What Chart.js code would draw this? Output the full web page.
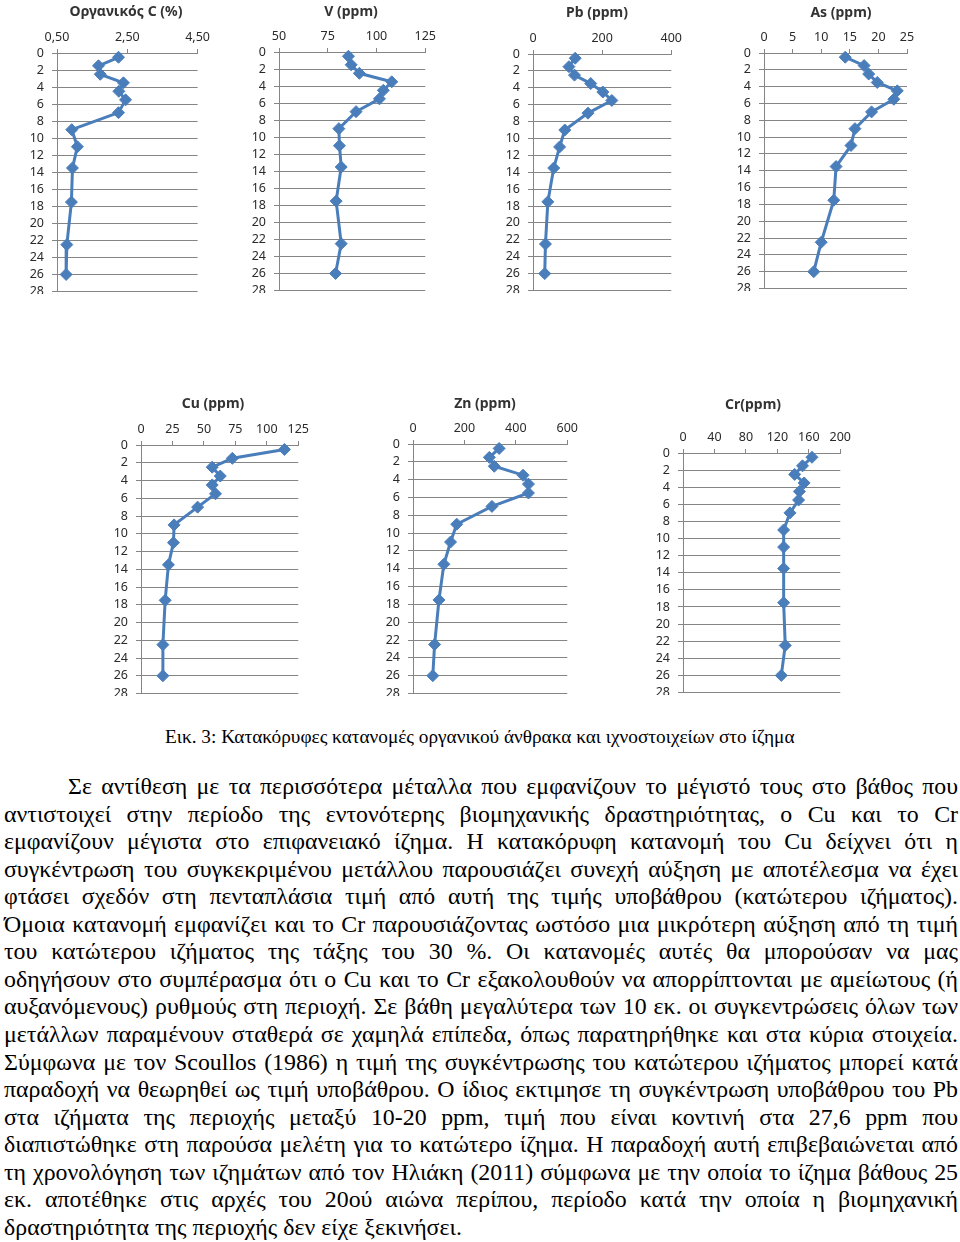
<!DOCTYPE html>
<html lang="el">
<head>
<meta charset="UTF-8">
<title>Κατακόρυφες κατανομές</title>
<script src="https://cdn.jsdelivr.net/npm/chart.js"></script>
<style>
  body { margin: 0; width: 960px; height: 1242px; background: #fff; position: relative; overflow: hidden; }
  .box { position: absolute; overflow: hidden; }
  .box canvas { position: absolute; }
  .ttl { position: absolute; font: bold 14px "Noto Sans", sans-serif; color: #333; white-space: nowrap; transform: translate(-50%, -50%); }
  .txt { position: absolute; font-family: "Liberation Serif", "Times New Roman", serif; color: #000; white-space: nowrap; }
  .ln { position: absolute; left: 0; white-space: nowrap; line-height: 27.56px; height: 27.56px; }
</style>
</head>
<body>

<div id="charts"></div>

<div class="txt" id="caption" style="left:165px; top:726px;"><span>Εικ. 3: Κατακόρυφες κατανομές οργανικού άνθρακα και ιχνοστοιχείων στο ίζημα</span></div>
<div class="txt" id="para" style="left:4px; top:773px; width:954px;"></div>

<script>
// depth of each sample (cm) and y-axis ticks
const depths = [0.5, 1.5, 2.5, 3.5, 4.5, 5.5, 7, 9, 11, 13.5, 17.5, 22.5, 26];
const depthTicks = [0, 2, 4, 6, 8, 10, 12, 14, 16, 18, 20, 22, 24, 26, 28];
const depthLabels = ['0','2','4','6','8','10','12','14','16','18','20','22','24','26','28'];

// values
const orgC = [2.25, 1.68, 1.73, 2.39, 2.26, 2.45, 2.25, 0.92, 1.08, 0.94, 0.91, 0.78, 0.76];
const vVals = [85.6, 87, 91.2, 107.8, 103.5, 101.5, 89.5, 80.7, 81, 81.9, 79.3, 81.9, 79];
const pbVals = [122, 104, 120, 167, 202, 228, 159, 92, 77, 60, 43, 36, 34];
const asVals = [14.2, 17.5, 18.3, 19.8, 23.3, 22.7, 18.8, 15.9, 15.2, 12.6, 12.2, 10, 8.7];
const cuVals = [114, 72.6, 56.6, 63, 56.6, 59.2, 45, 26.3, 25.8, 21.8, 19.2, 17.4, 17.4];
const znVals = [335, 297, 316, 428, 449, 449, 307, 170, 146, 120, 101, 84, 77];
const crVals = [164, 152, 142, 154, 148, 147, 136, 128, 128, 128, 128, 130, 125];

// x tick labels
const orgCTicks = ['0,50', '2,50', '4,50'];
const vTicks = ['50', '75', '100', '125'];
const pbTicks = ['0', '200', '400'];
const asTicks = ['0', '5', '10', '15', '20', '25'];
const cuTicks = ['0', '25', '50', '75', '100', '125'];
const znTicks = ['0', '200', '400', '600'];
const crTicks = ['0', '40', '80', '120', '160', '200'];

const titles = ['Οργανικός C (%)', 'V (ppm)', 'Pb (ppm)', 'As (ppm)', 'Cu (ppm)', 'Zn (ppm)', 'Cr(ppm)'];

const blue = '#4A7EBB';
const gridCol = '#858585';
Chart.defaults.font.family = "'Noto Sans', sans-serif";
Chart.defaults.font.size = 12.5;
Chart.defaults.color = '#2a2a2a';

// plot area of each panel on the page: l, t, r, b, clip bottom, title x, title y
const panels = [
  { vals: orgC, ticks: orgCTicks, min: 0.5, max: 4.5, step: 2, l: 57, t: 53, r: 200, b: 290, cut: 294, tx: 126, ty: 10 },
  { vals: vVals, ticks: vTicks, min: 50, max: 125, step: 25, l: 279, t: 52, r: 426, b: 289, cut: 293, tx: 351, ty: 10 },
  { vals: pbVals, ticks: pbTicks, min: 0, max: 400, step: 200, l: 533, t: 54, r: 672, b: 289, cut: 293, tx: 597, ty: 11 },
  { vals: asVals, ticks: asTicks, min: 0, max: 25, step: 5, l: 764, t: 53, r: 907, b: 287, cut: 291, tx: 841, ty: 11 },
  { vals: cuVals, ticks: cuTicks, min: 0, max: 125, step: 25, l: 141, t: 445, r: 299, b: 692, cut: 696, tx: 213, ty: 402 },
  { vals: znVals, ticks: znTicks, min: 0, max: 600, step: 200, l: 413, t: 444, r: 568, b: 692, cut: 696, tx: 485, ty: 402 },
  { vals: crVals, ticks: crTicks, min: 0, max: 200, step: 40, l: 683, t: 453, r: 841, b: 691, cut: 695, tx: 753, ty: 403 }
];

const YW = 50, XH = 45, PR = 14, PB = 10, LBL = 7;
const holder = document.getElementById('charts');

panels.forEach((p, k) => {
  const left = p.l - YW, top = p.t - XH;
  const w = (p.r - p.l) + YW + PR, h = (p.b - p.t) + XH + PB + LBL;

  const box = document.createElement('div');
  box.className = 'box';
  box.style.left = left + 'px';
  box.style.top = top + 'px';
  box.style.width = w + 'px';
  box.style.height = (p.cut - top) + 'px';
  const cv = document.createElement('canvas');
  cv.width = w; cv.height = h;
  box.appendChild(cv);
  holder.appendChild(box);

  const t = document.createElement('div');
  t.className = 'ttl';
  t.textContent = titles[k];
  t.style.left = p.tx + 'px';
  t.style.top = p.ty + 'px';
  holder.appendChild(t);

  new Chart(cv, {
    type: 'scatter',
    data: {
      datasets: [{
        data: depths.map((d, i) => ({ x: p.vals[i], y: d })),
        showLine: true,
        borderColor: blue,
        backgroundColor: blue,
        borderWidth: 3,
        pointStyle: 'rectRot',
        pointRadius: 6,
        pointBorderWidth: 1,
        clip: false
      }]
    },
    options: {
      responsive: false,
      animation: false,
      layout: { padding: { left: 0, top: 0, right: PR, bottom: PB } },
      plugins: { legend: { display: false }, tooltip: { enabled: false } },
      scales: {
        x: {
          type: 'linear', position: 'top', min: p.min, max: p.max,
          ticks: { stepSize: p.step, autoSkip: false, maxRotation: 0, padding: 4,
                   callback: (v, i) => p.ticks[i] },
          grid: { drawOnChartArea: false, tickLength: 4, color: gridCol },
          border: { color: gridCol },
          afterFit: s => { s.height = XH; }
        },
        y: {
          type: 'linear', reverse: true, min: 0, max: 28,
          ticks: { stepSize: 2, autoSkip: false, padding: 8,
                   callback: v => depthLabels[depthTicks.indexOf(v)] },
          grid: { tickLength: 5, color: gridCol },
          border: { color: gridCol },
          afterFit: s => { s.width = YW; }
        }
      }
    }
  });
});

// paragraph, one entry per printed line
const lines = [
  'Σε αντίθεση με τα περισσότερα μέταλλα που εμφανίζουν το μέγιστό τους στο βάθος που',
  'αντιστοιχεί στην περίοδο της εντονότερης βιομηχανικής δραστηριότητας, ο Cu και το Cr',
  'εμφανίζουν μέγιστα στο επιφανειακό ίζημα. Η κατακόρυφη κατανομή του Cu δείχνει ότι η',
  'συγκέντρωση του συγκεκριμένου μετάλλου παρουσιάζει συνεχή αύξηση με αποτέλεσμα να έχει',
  'φτάσει σχεδόν στη πενταπλάσια τιμή από αυτή της τιμής υποβάθρου (κατώτερου ιζήματος).',
  'Όμοια κατανομή εμφανίζει και το Cr παρουσιάζοντας ωστόσο μια μικρότερη αύξηση από τη τιμή',
  'του κατώτερου ιζήματος της τάξης του 30 %. Οι κατανομές αυτές θα μπορούσαν να μας',
  'οδηγήσουν στο συμπέρασμα ότι ο Cu και το Cr εξακολουθούν να απορρίπτονται με αμείωτους (ή',
  'αυξανόμενους) ρυθμούς στη περιοχή. Σε βάθη μεγαλύτερα των 10 εκ. οι συγκεντρώσεις όλων των',
  'μετάλλων παραμένουν σταθερά σε χαμηλά επίπεδα, όπως παρατηρήθηκε και στα κύρια στοιχεία.',
  'Σύμφωνα με τον Scoullos (1986) η τιμή της συγκέντρωσης του κατώτερου ιζήματος μπορεί κατά',
  'παραδοχή να θεωρηθεί ως τιμή υποβάθρου. Ο ίδιος εκτιμησε τη συγκέντρωση υποβάθρου του Pb',
  'στα ιζήματα της περιοχής μεταξύ 10-20 ppm, τιμή που είναι κοντινή στα 27,6 ppm που',
  'διαπιστώθηκε στη παρούσα μελέτη για το κατώτερο ίζημα. Η παραδοχή αυτή επιβεβαιώνεται από',
  'τη χρονολόγηση των ιζημάτων από τον Ηλιάκη (2011) σύμφωνα με την οποία το ίζημα βάθους 25',
  'εκ. αποτέθηκε στις αρχές του 20ού αιώνα περίπου, περίοδο κατά την οποία η βιομηχανική',
  'δραστηριότητα της περιοχής δεν είχε ξεκινήσει.'
];

const para = document.getElementById('para');
para.style.fontSize = '20px';
const spans = lines.map((s, i) => {
  const d = document.createElement('div');
  d.className = 'ln';
  d.style.top = (i * 27.56) + 'px';
  if (i === 0) d.style.left = '64px';
  const sp = document.createElement('span');
  sp.textContent = s;
  d.appendChild(sp);
  para.appendChild(d);
  return sp;
});
// scale font so the last (unjustified) line has the width seen in the figure
const lastW = spans[spans.length - 1].getBoundingClientRect().width;
para.style.fontSize = (20 * 458 / lastW) + 'px';
spans.forEach((sp, i) => {
  if (i === spans.length - 1) return;
  const target = i === 0 ? 954 - 64 : 954;
  const w = sp.getBoundingClientRect().width;
  const gaps = (sp.textContent.match(/ /g) || []).length;
  if (gaps) sp.style.wordSpacing = ((target - w) / gaps) + 'px';
});

// caption: fit to width 630
const cap = document.getElementById('caption');
cap.style.fontSize = '18px';
const cs = cap.firstChild;
const cw = cs.getBoundingClientRect().width;
cap.style.fontSize = (18 * 630 / cw) + 'px';
</script>
</body>
</html>
